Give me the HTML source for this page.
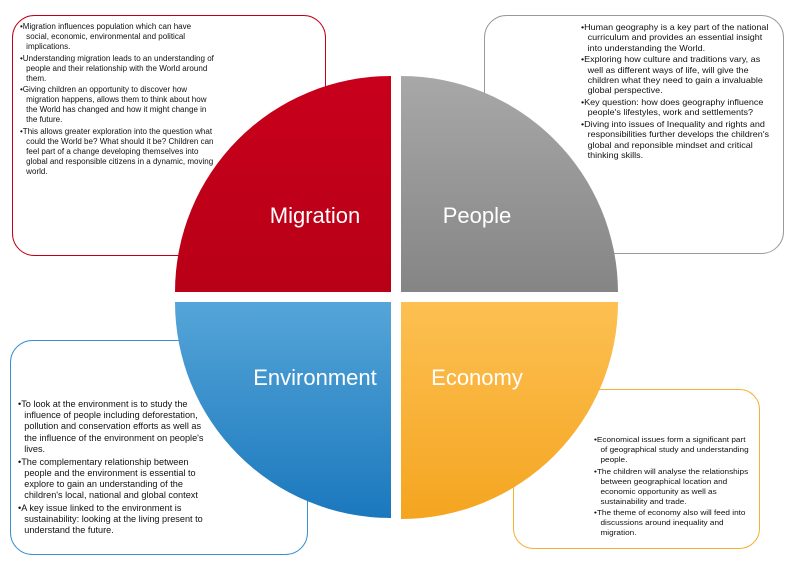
<!DOCTYPE html>
<html><head><meta charset="utf-8"><style>
body{margin:0;width:793px;height:561px;background:#fff;position:relative;overflow:hidden;font-family:"Liberation Sans",sans-serif}
svg{position:absolute;left:0;top:0}
.t{position:absolute;color:#111;font-family:"Liberation Sans",sans-serif;white-space:nowrap;transform-origin:0 0}
.t p{margin:0 0 1.5px 0;padding-left:6px;text-indent:-6px}
.l{position:absolute;color:#fff;font-size:22px;transform:translate(-50%,-50%);white-space:nowrap}
</style></head><body>
<svg width="793" height="561">
<defs>
<linearGradient id="r" x1="0" y1="0" x2="0" y2="1"><stop offset="0" stop-color="#c8001c"/><stop offset="1" stop-color="#b80016"/></linearGradient>
<linearGradient id="g" x1="0" y1="0" x2="0" y2="1"><stop offset="0" stop-color="#a8a8a8"/><stop offset="1" stop-color="#858585"/></linearGradient>
<linearGradient id="b" x1="0" y1="0" x2="0" y2="1"><stop offset="0" stop-color="#55a5d8"/><stop offset="1" stop-color="#1b78bd"/></linearGradient>
<linearGradient id="y" x1="0" y1="0" x2="0" y2="1"><stop offset="0" stop-color="#fdc052"/><stop offset="1" stop-color="#f4a520"/></linearGradient>
</defs>
<rect x="12.5" y="15.5" width="313" height="240" rx="22" fill="#fff" stroke="#c00018" stroke-width="1"/>
<rect x="484.5" y="15.5" width="299" height="238" rx="22" fill="#fff" stroke="#999" stroke-width="1"/>
<rect x="10.5" y="340.5" width="297" height="214" rx="22" fill="#fff" stroke="#3a8fcf" stroke-width="1"/>
<rect x="513.5" y="389.5" width="246" height="159" rx="20" fill="#fff" stroke="#f4b030" stroke-width="1"/>
<path d="M391,292 L391,76 A216,216 0 0 0 175,292 Z" fill="url(#r)"/>
<path d="M401,292 L401,76 A217,217 0 0 1 618,292 Z" fill="url(#g)"/>
<path d="M391,302 L175,302 A216,216 0 0 0 391,518 Z" fill="url(#b)"/>
<path d="M401,302 L618,302 A217,217 0 0 1 401,519 Z" fill="url(#y)"/>
</svg>
<div class="l" style="left:315px;top:216px">Migration</div>
<div class="l" style="left:477px;top:216px">People</div>
<div class="l" style="left:315px;top:378px">Environment</div>
<div class="l" style="left:477px;top:378px">Economy</div>
<div class="t" style="left:20px;top:22px;font-size:7.8px;line-height:10px;transform:scaleX(1.03)">
<p>•Migration influences population which can have<br>social, economic, environmental and political<br>implications.</p>
<p>•Understanding migration leads to an understanding of<br>people and their relationship with the World around<br>them.</p>
<p>•Giving children an opportunity to discover how<br>migration happens, allows them to think about how<br>the World has changed and how it might change in<br>the future.</p>
<p>•This allows greater exploration into the question what<br>could the World be? What should it be? Children can<br>feel part of a change developing themselves into<br>global and responsible citizens in a dynamic, moving<br>world.</p>
</div>
<div class="t" style="left:581px;top:23px;font-size:8.2px;line-height:10.3px;transform:scaleX(1.1)">
<p>•Human geography is a key part of the national<br>curriculum and provides an essential insight<br>into understanding the World.</p>
<p>•Exploring how culture and traditions vary, as<br>well as different ways of life, will give the<br>children what they need to gain a invaluable<br>global perspective.</p>
<p>•Key question: how does geography influence<br>people's lifestyles, work and settlements?</p>
<p>•Diving into issues of Inequality and rights and<br>responsibilities further develops the children's<br>global and reponsible mindset and critical<br>thinking skills.</p>
</div>
<div class="t" style="left:18px;top:399px;font-size:8.8px;line-height:11.2px;transform:scaleX(1.04)">
<p>•To look at the environment is to study the<br>influence of people including deforestation,<br>pollution and conservation efforts as well as<br>the influence of the environment on people's<br>lives.</p>
<p>•The complementary relationship between<br>people and the environment is essential to<br>explore to gain an understanding of the<br>children's local, national and global context</p>
<p>•A key issue linked to the environment is<br>sustainability: looking at the living present to<br>understand the future.</p>
</div>
<div class="t" style="left:594px;top:435px;font-size:7.6px;line-height:10px;transform:scaleX(1.08)">
<p>•Economical issues form a significant part<br>of geographical study and understanding<br>people.</p>
<p>•The children will analyse the relationships<br>between geographical location and<br>economic opportunity as well as<br>sustainability and trade.</p>
<p>•The theme of economy also will feed into<br>discussions around inequality and<br>migration.</p>
</div>
</body></html>
